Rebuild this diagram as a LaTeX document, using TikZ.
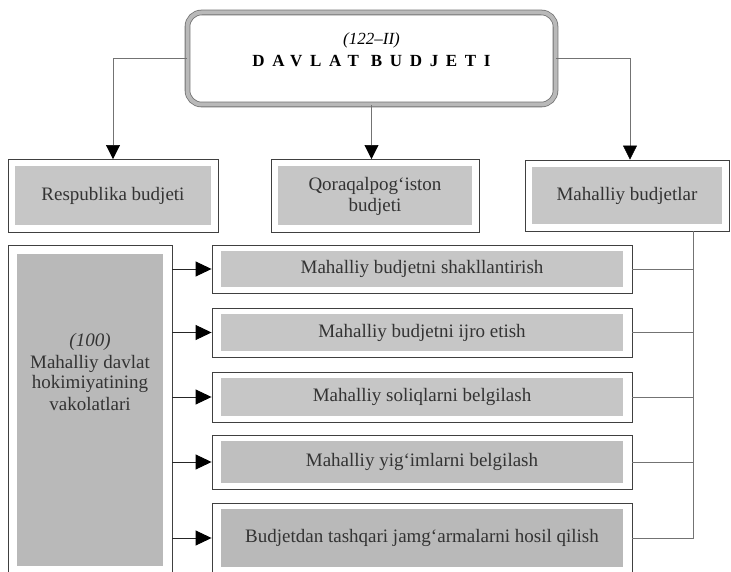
\documentclass[tikz,border=0pt]{standalone}
\usepackage{fontspec}
\setmainfont{Liberation Serif}
\usetikzlibrary{arrows.meta}
\tikzset{
  inset/.style n args={3}{path picture={\fill[#3] ([shift={(#1,-#2)}]path picture bounding box.north west) rectangle ([shift={(-#1,#2)}]path picture bounding box.south east);}},
  box/.style={draw=black!75, line width=0.9pt, fill=white, inner sep=0pt, text=black!80,
    font=\fontsize{19}{21}\selectfont, align=center},
  txt/.style={text=black!80, font=\fontsize{19}{21}\selectfont, align=center, inner sep=0pt},
  conn/.style={draw=black!55, line width=0.6pt},
  downarrow/.style={conn, -{Triangle[length=14pt,width=14pt,color=black]}},
  rightarrow/.style={draw=black!85, line width=0.9pt, -{Triangle[length=16pt,width=15pt,color=black]}},
}
\begin{document}
\begin{tikzpicture}[x=1pt,y=-1pt]
\useasboundingbox (0,0) rectangle (731,572);
\clip (0,0) rectangle (731,572);
% top box
\node[draw=black!55, double=gray!55, double distance=4pt, line width=0.8pt, rounded corners=14pt,
      fill=white, minimum width=368pt, minimum height=92pt, inner sep=0pt] (top) at (371.5,58.5) {};
\node[txt, text=black, font=\fontsize{17}{22}\selectfont] (toptxt) at (371.5,50)
  {\textit{(122--II)}\\{\bfseries\addfontfeatures{LetterSpace=45}DAVLAT BUDJETI}};
% second row
\node[box, inset={7pt}{7pt}{gray!45}, minimum width=210pt, minimum height=73pt] (rep) at (113,196) {Respublika budjeti};
\node[box, inset={7pt}{7pt}{gray!45}, minimum width=208pt, minimum height=73pt] (qor) at (375,196) {Qoraqalpog‘iston\\budjeti};
\node[box, inset={7pt}{7pt}{gray!45}, minimum width=204pt, minimum height=71pt] (mah) at (627,195.5) {Mahalliy budjetlar};
\draw[downarrow] (top.west) -| (rep.north);
\draw[downarrow] (top.south) -- (top.south |- qor.north);
\draw[downarrow] (top.east) -| ([xshift=3pt]mah.north);
% left big box
\node[box, inset={9pt}{9pt}{gray!55}, minimum width=164pt, minimum height=330pt] (L) at (90,410) {};
\node[txt] (Ltxt) at (90,372) {\textit{(100)}\\Mahalliy davlat\\hokimiyatining\\vakolatlari};
% right boxes
\node[box, inset={9pt}{6pt}{gray!45}, minimum width=420pt, minimum height=48pt] (r1) at (422,269) {Mahalliy budjetni shakllantirish};
\node[box, inset={9pt}{6pt}{gray!45}, minimum width=420pt, minimum height=49pt] (r2) at (422,332.5) {Mahalliy budjetni ijro etish};
\node[box, inset={9pt}{6pt}{gray!45}, minimum width=420pt, minimum height=50pt] (r3) at (422,397) {Mahalliy soliqlarni belgilash};
\node[box, inset={9pt}{6pt}{gray!50}, minimum width=420pt, minimum height=54pt] (r4) at (422,462) {Mahalliy yig‘imlarni belgilash};
\node[box, inset={9pt}{6pt}{gray!55}, minimum width=420pt, minimum height=70pt] (r5) at (422,538) {Budjetdan tashqari jamg‘armalarni hosil qilish};
\foreach \r in {r1,r2,r3,r4,r5}{
  \draw[rightarrow] (L.east |- \r.west) -- (\r.west);
}
% right bus
\path (mah.south) ++(66,0) coordinate (bt);
\draw[conn] (bt) |- (r5.east);
\foreach \r in {r1,r2,r3,r4}{
  \draw[conn] (\r.east) -- (\r.east -| bt);
}
\end{tikzpicture}
\end{document}
